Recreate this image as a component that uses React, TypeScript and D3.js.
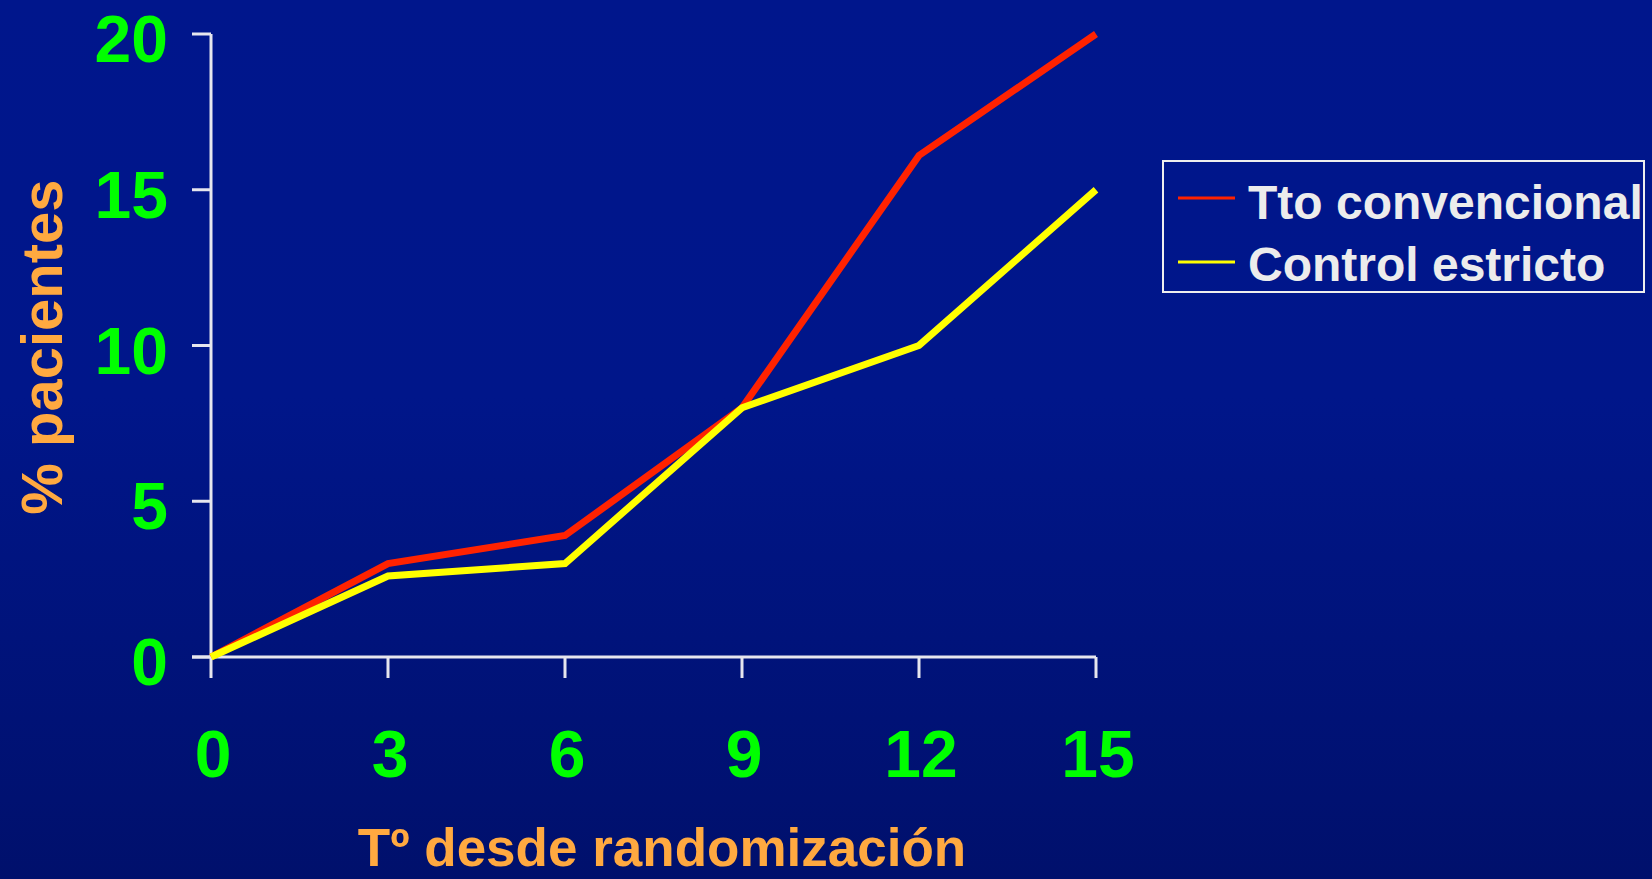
import React from "react";
import * as d3 from "d3";

const months = [0, 3, 6, 9, 12, 15];
const convencional = [0, 3, 3.9, 8, 16.1, 20];
const estricto = [0, 2.6, 3, 8, 10, 15];
const yTicks = [0, 5, 10, 15, 20];
const seriesNames = ["Tto convencional", "Control estricto"];
const seriesColors = ["#ff2200", "#ffff00"];

const W = 1652;
const H = 879;
const FONT = "'Liberation Sans', Arial, Helvetica, sans-serif";

export default function App() {
  const x = d3.scaleLinear().domain([0, 15]).range([211, 1096]);
  const y = d3.scaleLinear().domain([0, 20]).range([657, 34]);
  const line = d3
    .line<number>()
    .x((_, i) => x(months[i]))
    .y((d) => y(d));
  const series = [convencional, estricto];

  return (
    <svg
      width={W}
      height={H}
      style={{ position: "absolute", left: 0, top: 0, display: "block" }}
    >
      <defs>
        <linearGradient id="bg" x1="0" y1="0" x2="0" y2="1">
          <stop offset="0" stopColor="#00168c" />
          <stop offset="0.45" stopColor="#00168a" />
          <stop offset="1" stopColor="#00106c" />
        </linearGradient>
      </defs>
      <rect x={0} y={0} width={W} height={H} fill="url(#bg)" />

      {/* axes */}
      <g stroke="#e6e6ee" strokeWidth={3} fill="none">
        <line x1={x(0)} y1={y(20)} x2={x(0)} y2={y(0)} />
        <line x1={x(0) - 19} y1={y(0)} x2={x(15)} y2={y(0)} />
        {yTicks.map((t) => (
          <line key={"yt" + t} x1={x(0) - 19} y1={y(t)} x2={x(0)} y2={y(t)} />
        ))}
        {months.map((m) => (
          <line key={"xt" + m} x1={x(m)} y1={y(0)} x2={x(m)} y2={y(0) + 21} />
        ))}
      </g>

      {/* tick labels */}
      <g fill="#00ff00" fontFamily={FONT} fontWeight="bold" fontSize={66}>
        {yTicks.map((t) => (
          <text key={"yl" + t} x={168} y={y(t) + 28} textAnchor="end">
            {t}
          </text>
        ))}
        {months.map((m) => (
          <text key={"xl" + m} x={x(m) + 2} y={777} textAnchor="middle">
            {m}
          </text>
        ))}
      </g>

      {/* axis titles */}
      <text
        x={662}
        y={866}
        textAnchor="middle"
        fill="#ffa940"
        fontFamily={FONT}
        fontWeight="bold"
        fontSize={53}
      >
        Tº desde randomización
      </text>
      <text
        transform={`translate(62,347) rotate(-90)`}
        textAnchor="middle"
        fill="#ffa940"
        fontFamily={FONT}
        fontWeight="bold"
        fontSize={58}
      >
        % pacientes
      </text>

      {/* lines */}
      {series.map((s, i) => (
        <path
          key={"s" + i}
          d={line(s) || ""}
          fill="none"
          stroke={seriesColors[i]}
          strokeWidth={7}
          strokeLinejoin="miter"
        />
      ))}

      {/* legend */}
      <rect
        x={1163}
        y={161}
        width={481}
        height={131}
        fill="none"
        stroke="#eeeeee"
        strokeWidth={2}
      />
      {seriesNames.map((n, i) => (
        <g key={"lg" + i}>
          <line
            x1={1178}
            x2={1235}
            y1={198 + i * 64}
            y2={198 + i * 64}
            stroke={seriesColors[i]}
            strokeWidth={3}
          />
          <text
            x={1248}
            y={219 + i * 62}
            fill="#ececec"
            fontFamily={FONT}
            fontWeight="bold"
            fontSize={48}
          >
            {n}
          </text>
        </g>
      ))}
    </svg>
  );
}
